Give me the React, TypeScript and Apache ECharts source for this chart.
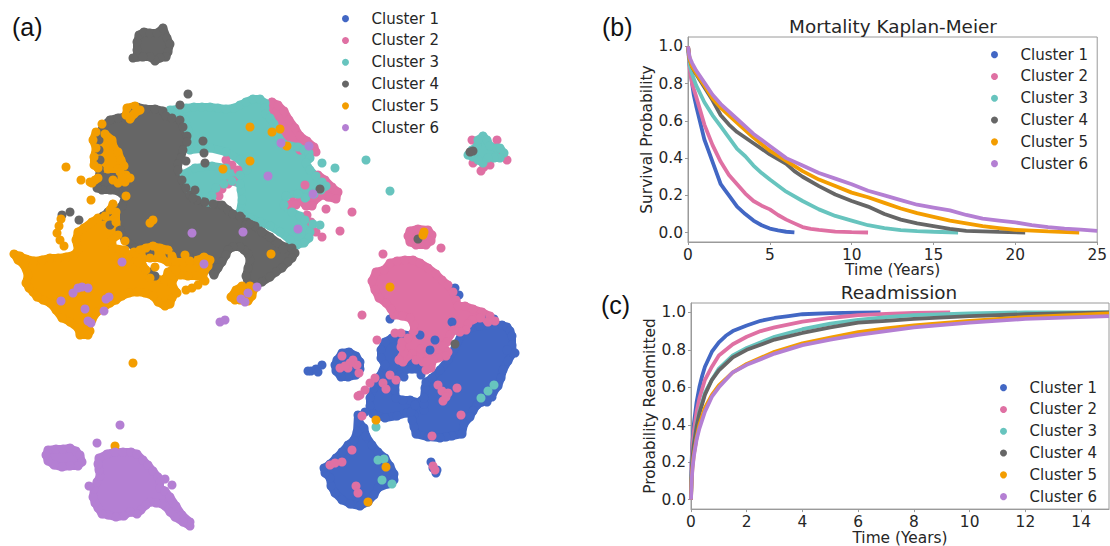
import React, { useEffect, useRef } from "react";
import * as echarts from "echarts";

const clusterNames = ["Cluster 1", "Cluster 2", "Cluster 3", "Cluster 4", "Cluster 5", "Cluster 6"];
const colors = ["#4267C4", "#DF70A3", "#67C4BE", "#666666", "#F39D00", "#B47FD3"];
const DOT_SIZE = 9;

// Cluster regions: ordered outlines of the dense areas, and the separate points.
const blueBlobs = [
  [[392,338],[385,342],[381,350],[381,358],[385,365],[380,376],[374,388],[370,398],[370,406],[373,414],[385,418],[397,416],[407,413],[414,415],[424,410],[424,404],[410,400],[403,400],[396,398],[395,390],[396,380],[400,372],[405,370],[412,369],[420,370],[425,365],[430,350],[435,340],[420,335],[405,335]],
  [[462,333],[470,328],[480,326],[488,325],[495,325],[502,325],[507,327],[510,331],[512,336],[512,345],[513,353],[508,361],[503,370],[501,378],[498,386],[493,393],[488,399],[482,402],[477,405],[473,411],[470,417],[464,424],[462,434],[452,436],[446,437],[440,438],[428,437],[416,434],[414,427],[412,420],[411,412],[415,405],[424,398],[425,388],[426,382],[432,378],[440,370],[448,360],[455,348]],
  [[358,415],[359,422],[364,428],[366,436],[372,445],[378,452],[385,458],[390,466],[394,474],[394,480],[388,484],[378,488],[374,495],[368,502],[360,506],[350,504],[342,500],[335,493],[331,486],[330,478],[325,473],[324,468],[330,464],[336,458],[342,452],[348,445],[354,440],[357,432]],
  [[337,360],[342,353],[349,352],[356,356],[360,362],[360,369],[356,375],[348,377],[341,377],[336,371],[335,365]],
];
const blueSingles = [[311,371],[316,369],[322,365],[318,372],[308,371],[431,462],[433,468],[436,473],[437,470],[390,319],[455,288],[459,295],[490,317],[494,319],[452,322],[365,412],[492,397],[487,402],[507,350],[515,353],[400,375],[404,377],[421,375]];

const pinkBlobs = [
  [[372,281],[376,272],[384,270],[390,263],[397,261],[405,260],[413,260],[420,263],[428,268],[436,274],[442,280],[448,285],[453,292],[456,300],[458,306],[465,306],[473,309],[482,312],[490,316],[495,321],[488,322],[480,318],[472,320],[468,324],[466,330],[460,332],[454,330],[450,335],[447,342],[443,346],[448,352],[446,356],[438,358],[433,360],[431,368],[426,370],[423,362],[420,354],[412,354],[408,356],[403,362],[399,360],[404,352],[401,347],[402,342],[408,338],[414,331],[414,325],[410,318],[402,316],[394,315],[391,309],[386,303],[379,298],[375,290]],
  [[410,231],[418,229],[428,230],[432,235],[431,241],[426,245],[416,245],[410,242],[408,236]],
  [[272,102],[278,105],[284,111],[289,120],[295,128],[300,136],[307,141],[314,147],[316,152],[300,150],[285,145],[275,125],[268,110]],
  [[318,175],[325,180],[332,187],[338,192],[336,199],[328,197],[322,195],[314,201],[312,206],[306,206],[300,200],[305,185]],
];
const pinkSingles = [[383,254],[441,248],[352,212],[340,231],[326,209],[322,237],[307,215],[311,222],[316,232],[362,315],[377,340],[395,333],[401,333],[359,373],[342,356],[340,368],[348,368],[353,360],[357,365],[350,363],[345,366],[358,396],[365,390],[370,383],[375,378],[360,395],[390,375],[396,380],[383,383],[386,389],[362,416],[352,450],[330,465],[335,463],[342,462],[356,486],[358,493],[433,466],[435,470],[432,436],[461,415],[457,388],[438,385],[442,391],[448,393],[443,401],[446,397],[226,160],[232,165],[238,170],[219,196],[222,189],[228,184],[234,181],[293,202],[290,205],[296,205],[472,140],[497,140],[507,160],[490,165],[481,171],[473,163],[503,156],[484,167],[426,362],[416,360],[421,349]];

const tealBlobs = [
  [[170,110],[178,109],[186,108],[194,107],[202,107],[210,107],[218,108],[226,109],[234,108],[240,105],[246,102],[253,99],[260,99],[265,103],[265,108],[266,114],[270,118],[274,124],[275,132],[279,138],[284,144],[291,146],[298,147],[304,150],[309,153],[310,158],[306,163],[310,170],[316,176],[322,182],[326,186],[321,190],[314,194],[305,198],[298,194],[286,196],[284,205],[292,212],[300,216],[305,220],[313,224],[310,232],[309,238],[304,243],[297,245],[290,240],[280,232],[270,226],[260,222],[250,218],[240,212],[242,200],[241,190],[240,184],[232,181],[224,184],[216,188],[212,196],[212,203],[208,202],[198,197],[190,190],[185,180],[184,174],[195,168],[212,166],[226,168],[240,175],[247,170],[240,160],[226,152],[210,148],[190,150],[190,143],[188,130],[185,120],[178,114]],
  [[483,136],[487,140],[490,146],[497,148],[500,148],[504,153],[500,158],[494,158],[488,158],[483,163],[478,160],[473,157],[468,155],[472,150],[477,146],[478,140]],
];
const tealSingles = [[322,163],[335,168],[366,160],[390,191],[320,225],[376,427],[378,460],[384,459],[382,480],[392,484],[494,385],[488,391],[481,398]];

const grayBlobs = [
  [[124,117],[130,111],[137,107],[146,109],[155,109],[163,111],[166,116],[172,118],[180,120],[183,127],[187,136],[187,142],[183,150],[181,158],[178,164],[178,170],[182,180],[186,188],[190,195],[197,200],[205,202],[213,204],[222,205],[228,210],[233,214],[240,216],[247,222],[255,226],[262,232],[270,237],[278,243],[285,247],[292,248],[295,253],[292,258],[288,262],[282,268],[276,272],[270,277],[262,282],[255,285],[248,284],[246,276],[248,268],[250,260],[248,254],[244,250],[240,247],[233,247],[228,250],[226,255],[222,262],[218,268],[214,275],[208,265],[190,258],[170,254],[150,253],[135,248],[125,240],[120,230],[110,225],[103,216],[108,212],[116,210],[122,206],[125,197],[118,191],[110,190],[102,190],[97,188],[98,180],[100,170],[100,160],[99,150],[99,140],[100,132],[104,125],[110,120],[118,118]],
  [[137,57],[137,50],[137,42],[139,35],[144,32],[150,33],[157,33],[163,28],[167,38],[170,44],[168,52],[166,57],[160,58],[155,61],[150,57],[143,57],[133,58]],
];
const graySingles = [[203,141],[204,153],[205,163],[186,161],[195,190],[193,198],[188,94],[180,105],[70,212],[62,215],[79,220],[455,344],[320,189],[418,239],[470,152],[473,151],[155,276],[151,272],[283,249],[246,225],[250,224]];

const orangeBlobs = [
  [[127,108],[135,106],[140,110],[134,114],[130,119],[126,115]],
  [[96,132],[105,134],[112,140],[114,148],[118,152],[121,160],[124,166],[118,169],[108,169],[98,168],[94,165],[94,157],[96,148],[93,140]],
  [[14,254],[20,256],[26,259],[34,261],[42,260],[50,258],[58,258],[66,257],[74,255],[78,250],[76,240],[78,232],[84,228],[92,222],[98,218],[105,216],[110,210],[113,204],[116,212],[116,222],[118,235],[112,240],[113,248],[125,250],[125,258],[134,262],[142,264],[146,270],[150,278],[165,280],[168,272],[172,270],[174,278],[172,284],[176,292],[172,298],[170,304],[165,306],[158,302],[153,296],[145,293],[137,292],[129,293],[122,296],[116,300],[110,303],[103,308],[97,312],[92,320],[88,325],[90,331],[88,335],[80,335],[78,328],[70,322],[62,318],[56,310],[50,303],[43,300],[37,297],[33,292],[29,288],[26,283],[28,275],[24,265],[18,260]],
  [[128,256],[134,252],[140,250],[146,248],[153,246],[160,248],[168,250],[172,256],[175,263],[168,262],[160,258],[150,258],[140,258]],
  [[231,297],[236,290],[242,286],[250,286],[254,289],[252,296],[248,301],[240,300],[235,300]],
  [[176,262],[183,262],[190,261],[198,260],[204,257],[210,260],[208,266],[204,272],[203,278],[197,276],[188,276],[180,275],[176,270]],
];
const orangeSingles = [[102,124],[95,180],[92,183],[98,178],[90,182],[113,180],[118,183],[125,182],[130,178],[126,175],[122,177],[120,172],[126,196],[91,200],[66,167],[81,180],[61,219],[59,226],[57,233],[60,240],[64,246],[150,223],[153,220],[125,241],[185,255],[205,281],[198,285],[192,288],[186,290],[155,267],[138,262],[250,127],[272,132],[280,129],[287,146],[250,161],[223,169],[271,254],[423,235],[424,232],[390,287],[376,420],[386,467],[368,502],[133,363],[115,446],[177,293]];

const purpleBlobs = [
  [[48,450],[56,449],[63,449],[70,448],[76,451],[80,455],[82,462],[78,466],[70,466],[62,467],[54,465],[48,461],[46,455]],
  [[99,458],[107,454],[115,452],[123,452],[131,452],[137,454],[143,460],[148,465],[153,471],[158,477],[160,482],[160,488],[165,491],[170,497],[176,506],[182,515],[190,522],[190,526],[183,522],[175,517],[170,512],[165,506],[162,504],[156,503],[150,502],[146,505],[141,510],[137,514],[130,512],[124,516],[116,517],[108,515],[102,514],[98,508],[95,503],[93,497],[94,489],[97,482],[100,476],[99,470],[98,464]],
];
const purpleSingles = [[192,233],[243,232],[268,176],[281,143],[298,229],[122,262],[204,264],[309,146],[313,194],[61,301],[73,293],[78,288],[82,287],[88,288],[85,309],[88,321],[91,323],[104,311],[106,299],[109,297],[220,322],[225,320],[257,287],[248,293],[241,299],[245,302],[120,425],[97,443],[89,486],[172,485],[165,479]];

const blobLayers = [blueBlobs, pinkBlobs, tealBlobs, grayBlobs, orangeBlobs, purpleBlobs];
const singleLayers = [blueSingles, pinkSingles, tealSingles, graySingles, orangeSingles, purpleSingles];

const km1 = [[0,1],[0.1,0.9],[0.25,0.8],[0.35,0.74],[0.5,0.68],[0.75,0.59],[1,0.5],[1.25,0.44],[1.5,0.38],[1.75,0.32],[2,0.26],[2.25,0.23],[2.5,0.2],[3,0.14],[3.5,0.1],[4,0.065],[4.5,0.04],[5,0.022],[5.5,0.012],[6,0.005],[6.5,0.002]];
const km2 = [[0,1],[0.1,0.88],[0.25,0.8],[0.5,0.73],[1,0.58],[1.5,0.47],[2,0.38],[2.5,0.31],[3,0.26],[3.5,0.21],[4,0.17],[4.5,0.145],[5,0.125],[5.5,0.095],[6,0.07],[6.5,0.05],[7,0.03],[7.5,0.02],[8,0.015],[9,0.006],[10,0.003],[11,0.001]];
const km3 = [[0,1],[0.1,0.9],[0.25,0.85],[0.5,0.79],[1,0.7],[1.5,0.63],[2,0.57],[2.5,0.51],[3,0.45],[3.5,0.41],[4,0.36],[4.5,0.32],[5,0.285],[6,0.22],[7,0.17],[8,0.125],[9,0.09],[10,0.065],[11,0.04],[12,0.025],[13,0.014],[14,0.008],[15,0.005],[16.5,0.001]];
const km4 = [[0,1],[0.1,0.93],[0.25,0.89],[0.5,0.85],[1,0.78],[1.5,0.71],[2,0.63],[2.5,0.58],[3,0.54],[4,0.48],[5,0.42],[6,0.37],[6.5,0.33],[7,0.3],[8,0.25],[9,0.205],[10,0.17],[11,0.14],[12,0.1],[13,0.07],[14,0.05],[15,0.035],[16,0.02],[17,0.01],[18,0.007],[19,0.004],[20.6,0.001]];
const km5 = [[0,1],[0.1,0.93],[0.25,0.89],[0.5,0.855],[1,0.79],[1.5,0.72],[2,0.67],[3,0.59],[4,0.51],[5,0.44],[6,0.385],[7,0.33],[8,0.285],[9,0.25],[10,0.215],[11,0.19],[12,0.16],[13,0.13],[14,0.105],[15,0.085],[16,0.065],[17,0.05],[18,0.035],[19,0.025],[20,0.015],[22,0.007],[23.9,0.001]];
const km6 = [[0,1],[0.1,0.94],[0.25,0.91],[0.5,0.87],[1,0.805],[1.5,0.74],[2,0.69],[3,0.61],[4,0.53],[5,0.465],[6,0.4],[7,0.36],[8,0.32],[9,0.29],[10,0.26],[11,0.225],[12,0.2],[13,0.175],[14,0.15],[15,0.135],[16,0.12],[17,0.095],[18,0.075],[19,0.065],[20,0.055],[21,0.04],[22,0.03],[23,0.022],[24,0.016],[25,0.01]];
const kmLines = [km1, km2, km3, km4, km5, km6];

const ra1 = [[0,0],[0.02,0.2],[0.05,0.3],[0.1,0.4],[0.2,0.52],[0.3,0.6],[0.4,0.66],[0.5,0.71],[0.75,0.79],[1,0.84],[1.25,0.875],[1.5,0.9],[2,0.93],[2.5,0.955],[3,0.97],[3.5,0.98],[4,0.99],[5,0.996],[6,0.999],[6.8,1]];
const ra2 = [[0,0],[0.02,0.18],[0.05,0.28],[0.1,0.36],[0.2,0.47],[0.3,0.54],[0.5,0.64],[0.75,0.71],[1,0.77],[1.5,0.83],[2,0.87],[2.5,0.9],[3,0.92],[4,0.95],[5,0.97],[6,0.985],[7,0.992],[8,0.997],[9.3,1]];
const ra3 = [[0,0],[0.02,0.14],[0.05,0.23],[0.1,0.3],[0.2,0.4],[0.3,0.47],[0.5,0.57],[0.75,0.64],[1,0.7],[1.5,0.77],[2,0.81],[3,0.87],[4,0.91],[5,0.94],[6,0.96],[7,0.975],[8,0.985],[10,0.995],[12,1],[15,1]];
const ra4 = [[0,0],[0.02,0.13],[0.05,0.22],[0.1,0.29],[0.2,0.39],[0.3,0.46],[0.5,0.56],[0.75,0.64],[1,0.69],[1.5,0.76],[2,0.8],[3,0.855],[4,0.89],[5,0.92],[6,0.945],[7,0.955],[8,0.965],[10,0.98],[12,0.99],[15,1]];
const ra5 = [[0,0],[0.02,0.1],[0.05,0.17],[0.1,0.24],[0.2,0.33],[0.3,0.4],[0.5,0.49],[0.75,0.56],[1,0.61],[1.5,0.68],[2,0.725],[3,0.79],[4,0.835],[5,0.865],[6,0.895],[7,0.915],[8,0.93],[10,0.955],[12,0.975],[15,0.995]];
const ra6 = [[0,0],[0.02,0.09],[0.05,0.16],[0.1,0.23],[0.2,0.32],[0.3,0.38],[0.5,0.47],[0.75,0.55],[1,0.6],[1.5,0.68],[2,0.72],[3,0.78],[4,0.825],[5,0.855],[6,0.88],[7,0.9],[8,0.92],[10,0.945],[12,0.965],[15,0.98]];
const raLines = [ra1, ra2, ra3, ra4, ra5, ra6];

const probTicks = [0, 0.2, 0.4, 0.6, 0.8, 1];
const kmTimeTicks = [0, 5, 10, 15, 20, 25];
const raTimeTicks = [0, 2, 4, 6, 8, 10, 12, 14];

const FONT = "DejaVu Sans";
const INK = "#262626";
const FRAME = "#9a9a9a";

function axisCommon(gridIndex: number, ticks: number[], min: number, max: number, name: string, gap: number, fmt: (v: number) => string) {
  return {
    type: "value", gridIndex, min, max, name, nameLocation: "middle", nameGap: gap,
    nameTextStyle: { fontFamily: FONT, fontSize: 15.4, color: INK },
    splitLine: { show: false },
    axisLine: { show: true, onZero: false, lineStyle: { color: FRAME, width: 1 } },
    axisTick: { show: true, length: 3, customValues: ticks, lineStyle: { color: FRAME } },
    axisLabel: { customValues: ticks, fontFamily: FONT, fontSize: 15.4, color: INK, margin: 5, formatter: fmt, hideOverlap: false, showMinLabel: true, showMaxLabel: true },
  };
}

function makeLegend(left: number, top: number) {
  return {
    left, top, orient: "vertical", icon: "circle", data: clusterNames, selectedMode: false,
    itemWidth: 42, itemHeight: 7, itemGap: 4.5, padding: 0,
    textStyle: { fontFamily: FONT, fontSize: 15, color: INK, lineHeight: 17.3, padding: 0 },
  };
}

export default function App() {
  const ref = useRef<HTMLDivElement>(null);
  useEffect(() => {
    document.body.style.margin = "0";
    const chart = echarts.init(ref.current!, undefined, { renderer: "svg" });
    const series: any[] = [];
    clusterNames.forEach((name, i) => {
      const blobs = blobLayers[i];
      series.push({ type: "scatter", name, xAxisIndex: 0, yAxisIndex: 0, symbolSize: DOT_SIZE, data: [...blobs.flat(), ...singleLayers[i]], itemStyle: { color: colors[i], opacity: 1 }, silent: true });
      series.push({
        type: "custom", name, xAxisIndex: 0, yAxisIndex: 0, silent: true, clip: false,
        data: blobs.map((b) => b[0]),
        encode: { x: 0, y: 1 },
        itemStyle: { color: colors[i] },
        renderItem: (params: any, api: any) => ({
          type: "polygon",
          shape: { points: blobs[params.dataIndex].map((p) => api.coord(p)) },
          style: { fill: colors[i], stroke: colors[i], lineWidth: 8, lineJoin: "round" },
        }),
      });
    });
    clusterNames.forEach((name, i) => {
      series.push({ type: "line", name, xAxisIndex: 1, yAxisIndex: 1, data: kmLines[i], showSymbol: false, symbol: "none", lineStyle: { color: colors[i], width: 3.8 }, itemStyle: { color: colors[i] }, silent: true });
    });
    clusterNames.forEach((name, i) => {
      series.push({ type: "line", name, xAxisIndex: 2, yAxisIndex: 2, data: raLines[i], showSymbol: false, symbol: "none", lineStyle: { color: colors[i], width: 3.8 }, itemStyle: { color: colors[i] }, silent: true });
    });
    chart.setOption({
      animation: false,
      backgroundColor: "#ffffff",
      title: [
        { text: "(a)", left: 12, top: 14, padding: 0, textStyle: { fontFamily: "Liberation Sans", fontSize: 25, fontWeight: "normal", color: "#111" } },
        { text: "(b)", left: 602, top: 14, padding: 0, textStyle: { fontFamily: "Liberation Sans", fontSize: 25, fontWeight: "normal", color: "#111" } },
        { text: "(c)", left: 601, top: 292, padding: 0, textStyle: { fontFamily: "Liberation Sans", fontSize: 25, fontWeight: "normal", color: "#111" } },
        { text: "Mortality Kaplan-Meier", left: 893, top: 17, textAlign: "center", padding: 0, textStyle: { fontFamily: FONT, fontSize: 18.4, fontWeight: "normal", color: INK } },
        { text: "Readmission", left: 899, top: 283, textAlign: "center", padding: 0, textStyle: { fontFamily: FONT, fontSize: 18.4, fontWeight: "normal", color: INK } },
      ],
      grid: [
        { left: 0, top: 0, width: 1110, height: 546, show: false },
        { left: 688, top: 37, width: 411, height: 205, show: true, borderColor: FRAME, borderWidth: 1, backgroundColor: "transparent" },
        { left: 691, top: 303, width: 418, height: 207, show: true, borderColor: FRAME, borderWidth: 1, backgroundColor: "transparent" },
      ],
      xAxis: [
        { type: "value", gridIndex: 0, min: 0, max: 1110, show: false },
        axisCommon(1, kmTimeTicks, 0, 25, "Time (Years)", 20, (v) => String(v)),
        axisCommon(2, raTimeTicks, 0, 15, "Time (Years)", 20, (v) => String(v)),
      ],
      yAxis: [
        { type: "value", gridIndex: 0, min: 0, max: 546, inverse: true, show: false },
        axisCommon(1, probTicks, -0.05, 1.05, "Survival Probability", 32, (v) => v.toFixed(1)),
        axisCommon(2, probTicks, -0.05, 1.05, "Probability Readmitted", 32, (v) => v.toFixed(1)),
      ],
      legend: [makeLegend(342, 10), makeLegend(991, 46), makeLegend(1000, 379)],
      series,
    });
    return () => chart.dispose();
  }, []);
  return <div ref={ref} style={{ width: 1110, height: 546, position: "absolute", left: 0, top: 0 }} />;
}
